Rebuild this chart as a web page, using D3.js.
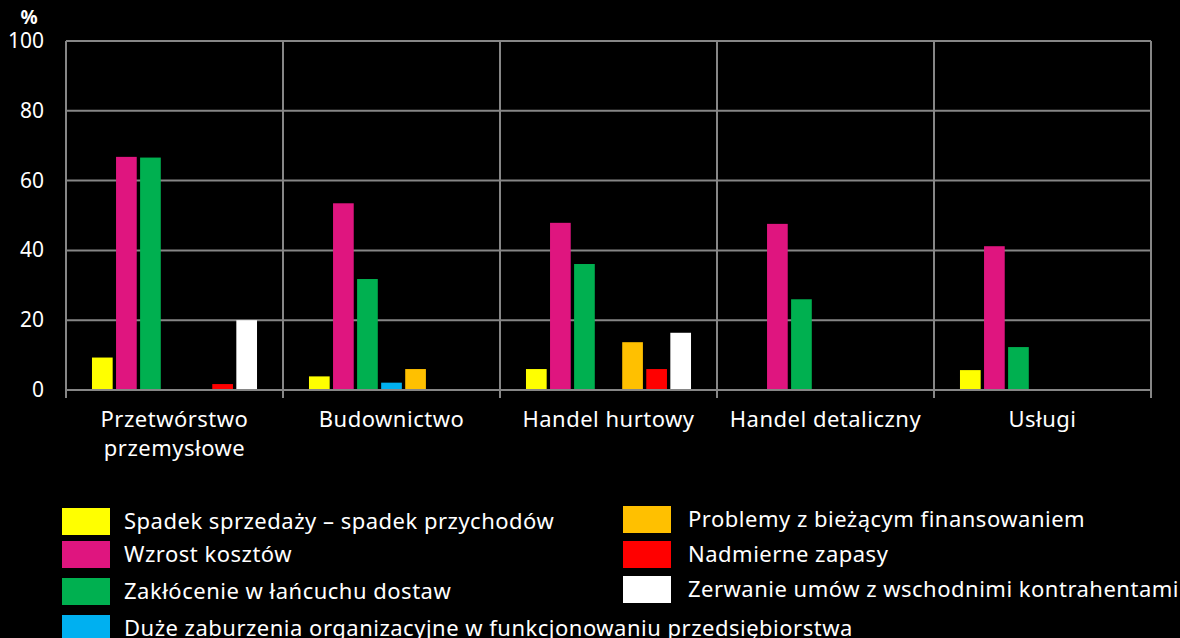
<!DOCTYPE html>
<html>
<head>
<meta charset="utf-8">
<script src="https://cdn.jsdelivr.net/npm/d3@7"></script>
<style>
  html, body { margin: 0; padding: 0; background: #000; }
  svg { display: block; font-family: "Noto Sans", sans-serif; }
  .grid line, .frame line { stroke: #868686; stroke-width: 2; }
  .lbl { fill: #fff; }
  .wide { letter-spacing: 0.5px; }
</style>
</head>
<body>
<svg id="chart" width="1180" height="638"></svg>
<script>
// categories and series
const categories = ['Przetwórstwo przemysłowe', 'Budownictwo', 'Handel hurtowy', 'Handel detaliczny', 'Usługi']
const series = [
    'Spadek sprzedaży – spadek przychodów',
    'Wzrost kosztów',
    'Zakłócenie w łańcuchu dostaw',
    'Duże zaburzenia organizacyjne w funkcjonowaniu przedsiębiorstwa',
    'Problemy z bieżącym finansowaniem',
    'Nadmierne zapasy',
    'Zerwanie umów z wschodnimi kontrahentami'
]
const colors = ['#ffff00', '#df157f', '#00b050', '#00b0f0', '#ffc000', '#ff0000', '#ffffff']

// values per series, one per category
const spadek      = [9.3, 3.9, 6.0, 0, 5.7]
const koszty      = [66.8, 53.5, 47.9, 47.6, 41.2]
const zaklocenie  = [66.6, 31.8, 36.1, 26.0, 12.3]
const zaburzenia  = [0, 2.1, 0, 0, 0]
const finansowanie = [0, 6.0, 13.7, 0, 0]
const zapasy      = [1.7, 0, 6.0, 0, 0]
const zerwanie    = [20.0, 0, 16.4, 0, 0]
const values = [spadek, koszty, zaklocenie, zaburzenia, finansowanie, zapasy, zerwanie]
const yTicks = [0, 20, 40, 60, 80, 100]

const margin = { left: 66, right: 29, top: 41, bottom: 248 }
const W = 1180, H = 638
const svg = d3.select('#chart')

const x0 = d3.scaleBand().domain(categories).range([margin.left, W - margin.right])
const x1 = d3.scaleBand().domain(d3.range(series.length)).range([0, x0.bandwidth()])
    .paddingInner(0.14).paddingOuter(1.08)
const y = d3.scaleLinear().domain([0, 100]).range([H - margin.bottom, margin.top])

// grid
const grid = svg.append('g').classed('grid', true)
grid.selectAll('line.h').data(yTicks.slice(1)).join('line').classed('h', true)
    .attr('x1', margin.left).attr('x2', W - margin.right)
    .attr('y1', d => y(d)).attr('y2', d => y(d))
const bounds = categories.map(c => x0(c)).concat([x0(categories[categories.length - 1]) + x0.bandwidth()])
grid.selectAll('line.v').data(bounds).join('line').classed('v', true)
    .attr('x1', d => d).attr('x2', d => d)
    .attr('y1', y(100)).attr('y2', y(0) + 8)

// bars
svg.append('g').selectAll('g').data(categories).join('g')
    .attr('transform', d => `translate(${x0(d)},0)`)
    .selectAll('rect')
    .data((c, ci) => values.map((v, si) => ({ si, v: v[ci] })).filter(d => d.v > 0))
    .join('rect')
    .attr('x', d => x1(d.si))
    .attr('width', x1.bandwidth())
    .attr('y', d => y(d.v))
    .attr('height', d => y(0) - y(d.v))
    .attr('fill', d => colors[d.si])

// x axis line
svg.append('g').classed('frame', true).append('line')
    .attr('x1', margin.left).attr('x2', W - margin.right)
    .attr('y1', y(0)).attr('y2', y(0))

// y labels
svg.append('g').selectAll('text').data(yTicks).join('text').classed('lbl', true)
    .attr('x', 44).attr('y', d => y(d) + 7)
    .attr('text-anchor', 'end').attr('font-size', 21)
    .text(d => d)
svg.append('text').classed('lbl', true)
    .attr('x', 29).attr('y', 24).attr('text-anchor', 'middle')
    .attr('font-size', 19).attr('font-weight', 'bold').text('%')

// category labels
const catLines = { 'Przetwórstwo przemysłowe': ['Przetwórstwo', 'przemysłowe'] }
svg.append('g').selectAll('text').data(categories).join('text').classed('lbl wide', true)
    .attr('x', d => x0(d) + x0.bandwidth() / 2).attr('y', 427)
    .attr('text-anchor', 'middle').attr('font-size', 22)
    .selectAll('tspan').data(d => catLines[d] || [d]).join('tspan')
    .attr('x', function () { return this.parentNode.getAttribute('x') })
    .attr('dy', (d, i) => i ? 29 : 0)
    .text(d => d)

// legend
const legendPos = [
    [62, 508], [62, 541], [62, 578], [62, 615],
    [623, 506], [623, 541], [623, 576]
]
const lg = svg.append('g').selectAll('g').data(series).join('g')
    .attr('transform', (d, i) => `translate(${legendPos[i][0]},${legendPos[i][1]})`)
lg.append('rect').attr('width', 48).attr('height', 27).attr('fill', (d, i) => colors[i])
lg.append('text').classed('lbl wide', true)
    .attr('x', (d, i) => i < 4 ? 62 : 65).attr('y', 21).attr('font-size', 22)
    .text(d => d)
</script>
</body>
</html>
